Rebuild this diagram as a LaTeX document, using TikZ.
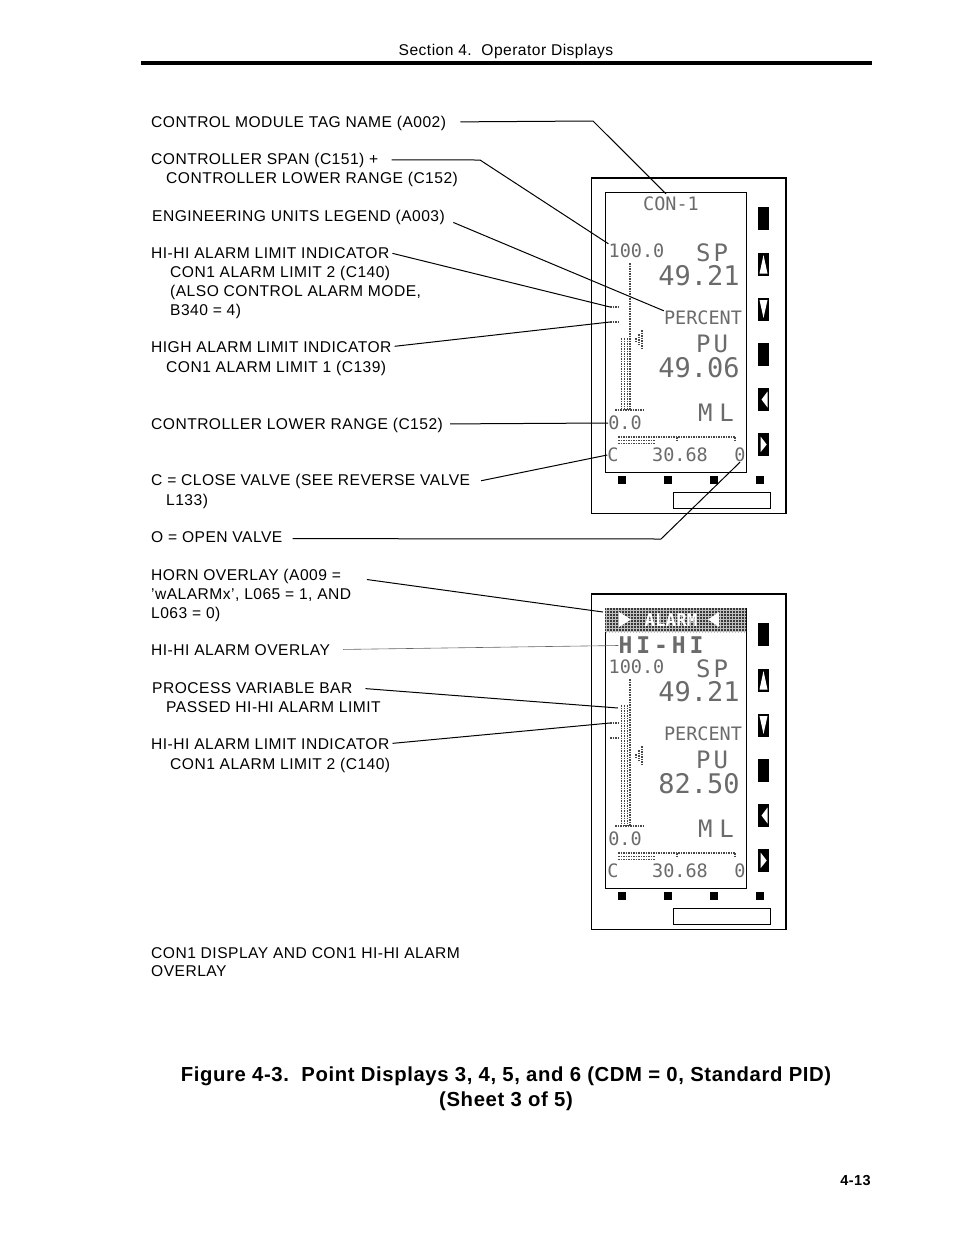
\documentclass[tikz,border=0pt]{standalone}
\usepackage{fontspec}
\setmainfont[LetterSpace=3]{Liberation Sans}
\newfontfamily\lcdfont{DejaVu Sans Mono}
\usepackage{tikz}
\usetikzlibrary{positioning,patterns}
\definecolor{lcdgray}{gray}{0.42}
\tikzset{lbl/.style={anchor=base west,inner sep=0pt,font=\fontsize{15.6}{18}\selectfont}}
\tikzset{lead/.style={draw=black,line width=1pt}}
\tikzset{lcdsmall/.style={inner sep=0pt,text=lcdgray,font=\lcdfont\fontsize{18.5}{20}\selectfont}}
\tikzset{lcdmid/.style={inner sep=0pt,text=lcdgray,font=\lcdfont\fontsize{24}{26}\selectfont}}
\tikzset{lcdbig/.style={inner sep=0pt,text=lcdgray,font=\lcdfont\fontsize{27}{30}\selectfont}}
\tikzset{lcddots/.style={draw=black!72,line width=1.7pt,dash pattern=on 1.5pt off 1pt}}
\newcommand{\devicebase}{%
  \draw[line width=1pt] (591,178) rectangle (786,513);
  \draw[line width=2pt] (591,178) -- (786,178) -- (786,513);
  \draw[line width=1pt] (605,192) rectangle (746,472);
  \foreach \bx in {622,668,714,760} \fill (\bx-4,476) rectangle (\bx+4,484);
  \draw[line width=.8pt] (673,492) rectangle (770,508);
  \foreach \by in {207,343} \fill (758,\by) rectangle (769,\by+23);
  \foreach \by in {253,298,388,433} \fill (758,\by) rectangle (769,\by+23);
  \fill[white] (763.5,255) -- (767.5,273.5) -- (759.5,273.5) -- cycle;
  \fill[white] (763.5,318) -- (767.5,300) -- (759.5,300) -- cycle;
  \fill[white] (761.5,399.5) -- (767.5,391.5) -- (767.5,407.5) -- cycle;
  \fill[white] (766.7,444.5) -- (760.7,436.7) -- (760.7,452) -- cycle;
  \node[lcdsmall](hundred) at (636.5,251){100.0};
  \node[lcdmid](sp) at (712,253){S\kern3pt P};
  \node[lcdbig](spval) at (699,276){49.21};
  \node[lcdsmall](percent) at (703,318){PERCENT};
  \node[lcdmid](pu) at (712,344){P\kern3pt U};
  \node[lcdmid](mode) at (716,413){M\kern7pt L};
  \node[lcdsmall](zero) at (625,423){0.0};
  \node[lcdsmall](cl) at (613,455){C};
  \node[lcdsmall](out) at (680,455){30.68};
  \node[lcdsmall](op) at (740,455){0};
  \draw[lcddots] (630,263) -- (630,410);
  \draw[lcddots] (615,410) -- (644,410);
  \draw[lcddots] (618,437) -- (735,437);
  \foreach \tx in {677,735} \draw[lcddots] (\tx,437) -- (\tx,441);
  \foreach \cy in {440.5,443.5} \draw[lcddots] (618,\cy) -- (655,\cy);
  \foreach \mx/\mtop/\mbot in {636/338/341,639/334/345,642/330/349} \draw[lcddots] (\mx,\mtop) -- (\mx,\mbot);
}
\begin{document}
\begin{tikzpicture}[x=1pt,y=-1pt]
  \useasboundingbox[fill=white] (0,0) rectangle (954,1234);

  \node[inner sep=0pt,font=\fontsize{15.6}{18}\selectfont](head) at (506,51.5){Section 4.\ \ Operator Displays};
  \fill (141,61) rectangle (872,65);

  % first display
  \begin{scope}[name prefix=a-]
    \devicebase
    \node[lcdsmall](con) at (671,204){CON-1};
    \node[lcdbig](pvval) at (699,368){49.06};
    \foreach \bx in {621.5,624.5,627.5} \draw[lcddots] (\bx,338) -- (\bx,410);
    \draw[lcddots] (610,307) -- (618,307);
    \draw[lcddots] (610,322) -- (618,322);
    \coordinate(hihi) at (610,307);
    \coordinate(high) at (610,322);
  \end{scope}

  % second display, with the overlays
  \begin{scope}[yshift=-416pt,name prefix=b-]
    \devicebase
    \node[preaction={fill=black!78},pattern=grid,pattern color=black!25,text=white,
      minimum width=141pt,minimum height=24pt,inner sep=0pt,
      font=\lcdfont\fontsize{17.5}{18}\selectfont\bfseries](banner) at (675.5,204){ALARM\hspace*{9pt}};
    \fill[white] (619,196) -- (631,203.5) -- (619,211) -- cycle;
    \fill[white] (719,196) -- (708,203.5) -- (719,211) -- cycle;
    \node[inner sep=0pt,text=black!58,font=\lcdfont\fontsize{23}{24}\selectfont\bfseries\addfontfeature{LetterSpace=17}](overlay) at (661,229.5){HI-HI};
    \node[lcdbig](pvval) at (699,368){82.50};
    \foreach \bx in {621.5,624.5,627.5} \draw[lcddots] (\bx,289) -- (\bx,410);
    \draw[lcddots] (610,307) -- (618,307);
    \draw[lcddots] (610,322) -- (618,322);
    \coordinate(horn) at (603,196);
    \coordinate(pvtop) at (618,292);
    \coordinate(hihi) at (610,307);
  \end{scope}

  \node[lbl](tag) at (151,127){CONTROL MODULE TAG NAME (A002)};
  \node[lbl](span) at (151,164){CONTROLLER SPAN (C151) +};
  \node[lbl](spanb) at (166,183){CONTROLLER LOWER RANGE (C152)};
  \node[lbl](units) at (152,221){ENGINEERING UNITS LEGEND (A003)};
  \node[lbl](hihi) at (151,258){HI-HI ALARM LIMIT INDICATOR};
  \node[lbl](hihib) at (170,277){CON1 ALARM LIMIT 2 (C140)};
  \node[lbl](hihic) at (170,296){(ALSO CONTROL ALARM MODE,};
  \node[lbl](hihid) at (170,315){B340 = 4)};
  \node[lbl](high) at (151,352){HIGH ALARM LIMIT INDICATOR};
  \node[lbl](highb) at (166,372){CON1 ALARM LIMIT 1 (C139)};
  \node[lbl](lower) at (151,429){CONTROLLER LOWER RANGE (C152)};
  \node[lbl](close) at (151,485){C = CLOSE VALVE (SEE REVERSE VALVE};
  \node[lbl](closeb) at (166,505){L133)};
  \node[lbl](open) at (151,542){O = OPEN VALVE};
  \node[lbl](horn) at (151,580){HORN OVERLAY (A009 =};
  \node[lbl](hornb) at (151,599){'wALARMx', L065 = 1, AND};
  \node[lbl](hornc) at (151,618){L063 = 0)};
  \node[lbl](hhover) at (151,655){HI-HI ALARM OVERLAY};
  \node[lbl](pvbar) at (152,693){PROCESS VARIABLE BAR};
  \node[lbl](pvbarb) at (166,712){PASSED HI-HI ALARM LIMIT};
  \node[lbl](hhtwo) at (151,749){HI-HI ALARM LIMIT INDICATOR};
  \node[lbl](hhtwob) at (170,769){CON1 ALARM LIMIT 2 (C140)};
  \node[lbl](caption) at (151,958){CON1 DISPLAY AND CON1 HI-HI ALARM};
  \node[lbl](captionb) at (151,976){OVERLAY};

  \node[inner sep=0pt,font=\fontsize{20.3}{24}\selectfont\bfseries](fig) at (506,1076){Figure 4-3.\ \ Point Displays 3, 4, 5, and 6 (CDM = 0, Standard PID)};
  \node[inner sep=0pt,font=\fontsize{20.3}{24}\selectfont\bfseries,below=6pt of fig](sheet){(Sheet 3 of 5)};
  \node[inner sep=0pt,font=\fontsize{14.5}{18}\selectfont\bfseries](page) at (855.5,1180.5){4-13};

  \coordinate(tagbend) at (593,121);
  \coordinate(spanbend) at (480,160);
  \coordinate(openbend) at (661,539);
  \draw[lead,shorten <=14pt] ([yshift=1pt]tag.east) -- (tagbend) -- ([xshift=-5pt,yshift=3pt]a-con.north);
  \draw[lead,shorten <=13pt] (span.east) -- (spanbend) -- (a-hundred.north west);
  \draw[lead,shorten <=9pt] ([yshift=-2pt]units.east) -- (a-percent.north west);
  \draw[lead,shorten <=3pt] (hihi.east) -- (a-hihi);
  \draw[lead,shorten <=3pt] (high.east) -- (a-high);
  \draw[lead,shorten <=7pt] ([yshift=1pt]lower.east) -- (a-zero.west);
  \draw[lead,shorten <=11pt] ([yshift=-2pt]close.east) -- (a-cl.west);
  \draw[lead,shorten <=10pt] ([yshift=-2pt]open.east) -- (openbend) -- (a-op.south);
  \draw[lead,shorten <=26pt] (horn.east) -- (b-horn);
  \draw[draw=black!60,line width=.6pt,shorten <=13pt] (hhover.east) -- (b-overlay.west);
  \draw[lead,shorten <=13pt] (pvbar.east) -- (b-pvtop);
  \draw[lead,shorten <=3pt] (hhtwo.east) -- (b-hihi);
\end{tikzpicture}
\end{document}
